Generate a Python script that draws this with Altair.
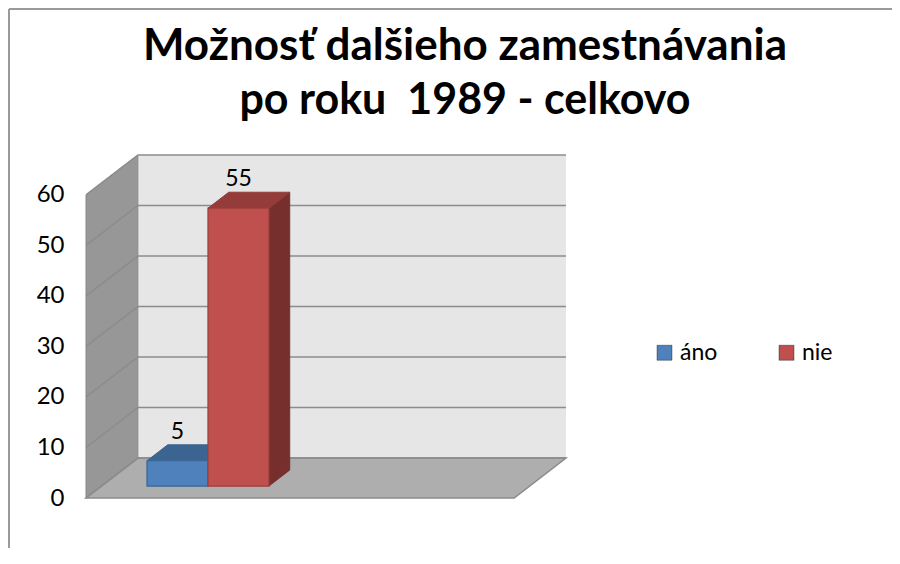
import altair as alt
import pandas as pd

# ---------------- data ----------------
series = ["áno", "nie"]
values = [5, 55]
tick_values = [0, 10, 20, 30, 40, 50, 60]
title_lines = ["Možnosť dalšieho zamestnávania", "po roku \u00a01989 - celkovo"]

# ---------------- style / geometry constants ----------------
WALL_TOP = 60          # top of walls in value units
DX = 0.85              # depth offset of the frame (x units)
DY = 7.9               # depth offset of the frame (value units)
FW = 7.02              # floor width (x units)
XMAX = FW + DX
YMAX = WALL_TOP + DY
BAR_W = 1.0
X_START = 0.745
BAR_FRONT = 0.3        # fraction of depth where bars start
BAR_DEPTH = 0.4        # fraction of depth the bars occupy

front_cols = ["#4F81BD", "#C0504D"]
top_cols = ["#3B6490", "#943C3A"]
side_cols = ["#385D8A", "#772F2D"]
edge_cols = ["#3A6594", "#9E3D3A"]
WALL_BACK = "#E6E6E6"
WALL_SIDE = "#979797"
FLOOR = "#AEAEAE"
GRID = "#8C8C8C"
FONT = "Lato"

xs = alt.Scale(domain=[0, XMAX], nice=False, zero=False)
ys = alt.Scale(domain=[0, YMAX], nice=False, zero=False)
yaxis = alt.Axis(values=tick_values, domain=False, ticks=False, grid=False,
                 labelFont=FONT, labelFontSize=24, labelColor="black",
                 labelPadding=22, title=None)


def X(f):
    return alt.X(f, type="quantitative", scale=xs, axis=None, stack=None)


def Y(f):
    return alt.Y(f, type="quantitative", scale=ys, axis=yaxis, stack=None)


# ---------------- frame tables ----------------
back_df = pd.DataFrame([{"x": DX, "x2": DX + FW, "y": DY, "y2": WALL_TOP + DY}])
side_df = pd.DataFrame([
    {"x": 0, "y": 0, "y2": WALL_TOP},
    {"x": DX, "y": DY, "y2": WALL_TOP + DY},
])
floor_df = pd.DataFrame([
    {"y": 0, "x": 0, "x2": FW},
    {"y": DY, "x": DX, "x2": DX + FW},
])
grid_rows = []
for v in tick_values:
    grid_rows.append({"x": DX, "x2": DX + FW, "y": v + DY, "y2": v + DY})
    grid_rows.append({"x": 0, "x2": DX, "y": v, "y2": v + DY})
grid_df = pd.DataFrame(grid_rows)

# ---------------- bar tables ----------------
base = BAR_FRONT * DY
ddx = BAR_DEPTH * DX
ddy = BAR_DEPTH * DY
front_rows, top_rows, side_rows, lab_rows = [], [], [], []
for i, (s, v) in enumerate(zip(series, values)):
    x0 = X_START + i * BAR_W + BAR_FRONT * DX
    x1 = x0 + BAR_W
    top = base + v
    front_rows.append({"series": s, "x": x0, "x2": x1, "y": base, "y2": top,
                       "edge": edge_cols[i]})
    top_rows.append({"part": f"t{i}", "y": top, "x": x0, "x2": x1, "fill": top_cols[i]})
    top_rows.append({"part": f"t{i}", "y": top + ddy, "x": x0 + ddx, "x2": x1 + ddx,
                     "fill": top_cols[i]})
    side_rows.append({"part": f"s{i}", "x": x1, "y": base, "y2": top, "fill": side_cols[i]})
    side_rows.append({"part": f"s{i}", "x": x1 + ddx, "y": base + ddy, "y2": top + ddy,
                      "fill": side_cols[i]})
    lab_rows.append({"x": (x0 + x1) / 2, "y": top + ddy, "label": str(v)})
front_df = pd.DataFrame(front_rows)
top_df = pd.DataFrame(top_rows)
side_df_bars = pd.DataFrame(side_rows)
lab_df = pd.DataFrame(lab_rows)

# ---------------- layers ----------------
back = alt.Chart(back_df).mark_rect(color=WALL_BACK).encode(
    x=X("x"), x2="x2", y=Y("y"), y2="y2")

side = alt.Chart(side_df).mark_area(orient="vertical", color=WALL_SIDE,
                                    stroke="#888888", strokeWidth=1).encode(
    x=X("x"), y=Y("y"), y2="y2")

floor = alt.Chart(floor_df).mark_area(orient="horizontal", color=FLOOR,
                                      stroke="#8A8A8A", strokeWidth=1.5).encode(
    y=Y("y"), x=X("x"), x2="x2")

grid = alt.Chart(grid_df).mark_rule(color=GRID, strokeWidth=1.5).encode(
    x=X("x"), x2="x2", y=Y("y"), y2="y2")

bar_side = alt.Chart(side_df_bars).mark_area(orient="vertical", strokeWidth=1).encode(
    x=X("x"), y=Y("y"), y2="y2", detail="part:N",
    fill=alt.Fill("fill:N", scale=None), stroke=alt.Stroke("fill:N", scale=None))

bar_top = alt.Chart(top_df).mark_area(orient="horizontal", strokeWidth=1).encode(
    y=Y("y"), x=X("x"), x2="x2", detail="part:N",
    fill=alt.Fill("fill:N", scale=None), stroke=alt.Stroke("fill:N", scale=None))

bar_front = alt.Chart(front_df).mark_rect(strokeWidth=1.2).encode(
    x=X("x"), x2="x2", y=Y("y"), y2="y2",
    color=alt.Color("series:N", scale=alt.Scale(domain=series, range=front_cols),
                    legend=alt.Legend(orient="none", legendX=567, legendY=186,
                                      direction="horizontal", title=None,
                                      symbolType="square", symbolSize=225,
                                      symbolStrokeWidth=1,
                                      symbolStrokeColor="rgba(0,0,0,0.35)",
                                      labelFont=FONT, labelFontSize=23,
                                      labelColor="black", labelOffset=4,
                                      columnPadding=57)),
    stroke=alt.Stroke("edge:N", scale=None))

labels = alt.Chart(lab_df).mark_text(font=FONT, fontSize=23, color="black",
                                     baseline="bottom", dy=-1).encode(
    x=X("x"), y=Y("y"), text="label:N")

# title drawn as two text lines (relative to the plot area origin)
TITLE_X = 379
title1 = alt.Chart(pd.DataFrame({"t": [title_lines[0]]})).mark_text(
    font=FONT, fontSize=44, fontWeight="bold", color="black",
    align="center", baseline="alphabetic").encode(
    x=alt.value(TITLE_X), y=alt.value(-95), text="t:N")
title2 = alt.Chart(pd.DataFrame({"t": [title_lines[1]]})).mark_text(
    font=FONT, fontSize=43, fontWeight="bold", color="black",
    align="center", baseline="alphabetic").encode(
    x=alt.value(TITLE_X), y=alt.value(-41), text="t:N")

border_df = pd.DataFrame([{"k": 0}])
border_v = alt.Chart(border_df).mark_rule(color="#9A9A9A", strokeWidth=2).encode(
    x=alt.value(-77), y=alt.value(-146), y2=alt.value(420))
border_h = alt.Chart(border_df).mark_rule(color="#9A9A9A", strokeWidth=2).encode(
    x=alt.value(-77), x2=alt.value(830), y=alt.value(-146))

chart = alt.layer(
    back, side, floor, grid, bar_side, bar_top, bar_front, labels,
    title1, title2, border_v, border_h
).properties(
    width=480, height=343,
    padding={"left": 78, "top": 147, "right": 326, "bottom": 50},
    autosize=alt.AutoSizeParams(type="none"),
).configure_view(stroke=None)

chart.save("out.html", embed_options={"renderer": "svg", "actions": False})
